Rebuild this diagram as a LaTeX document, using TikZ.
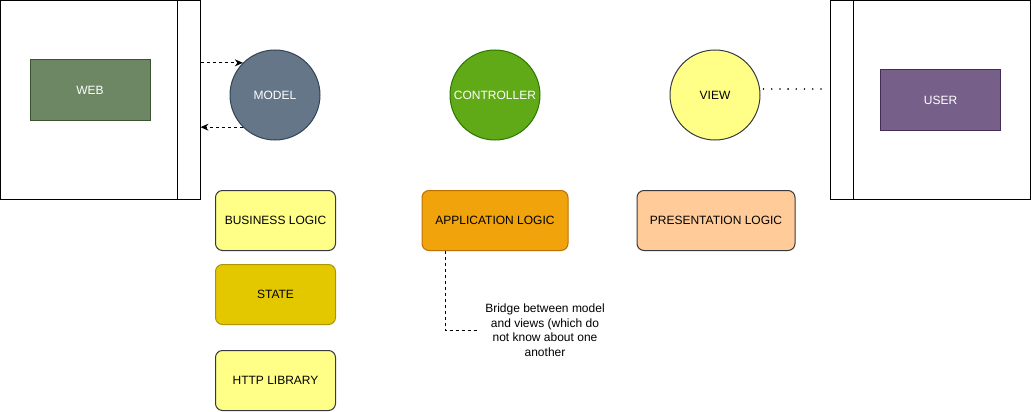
\documentclass[tikz,border=0pt]{standalone}
\usepackage{fontspec}
\setmainfont{Liberation Sans}
\usetikzlibrary{arrows.meta}
\definecolor{webfill}{HTML}{6D8764}\definecolor{webline}{HTML}{3A5431}
\definecolor{modelfill}{HTML}{647687}\definecolor{modelline}{HTML}{314354}
\definecolor{ctrlfill}{HTML}{60A917}\definecolor{ctrlline}{HTML}{2D7600}
\definecolor{yelfill}{HTML}{FFFF88}\definecolor{greyline}{HTML}{36393D}
\definecolor{userfill}{HTML}{76608A}\definecolor{userline}{HTML}{432D57}
\definecolor{statefill}{HTML}{E3C800}\definecolor{stateline}{HTML}{B09500}
\definecolor{appfill}{HTML}{F0A30A}\definecolor{appline}{HTML}{BD7000}
\definecolor{presfill}{HTML}{FFCC99}
\tikzset{
  lbl/.style={font=\fontsize{12}{14.5}\selectfont},
  container/.style={draw=black,line width=1pt,minimum width=200pt,minimum height=199pt,inner sep=0pt},
  actor/.style={lbl,line width=1pt,minimum width=120pt,minimum height=60pt,inner sep=0pt,text=white},
  role/.style={lbl,circle,line width=1pt,minimum size=90pt,inner sep=0pt},
  logic/.style={lbl,rounded corners=7pt,line width=1pt,minimum height=60pt,inner sep=0pt},
  flow/.style={line width=1pt,dash pattern=on 3pt off 3pt,-{Stealth[length=8pt,width=7pt]}}
}
\begin{document}
\begin{tikzpicture}[x=1pt,y=-1pt]
\useasboundingbox (0,0) rectangle (1031,412);
% containers
\node[container] (leftbox) at (100,100) {};
\draw[line width=1pt] (177,0.5) -- (177,199.5);
\node[container] (rightbox) at (930,100) {};
\draw[line width=1pt] (853,0.5) -- (853,199.5);
% actors
\node[actor,fill=webfill,draw=webline] (web) at (90,90) {WEB};
\node[actor,fill=userfill,draw=userline] (user) at (940.5,100) {USER};
% roles
\node[role,fill=modelfill,draw=modelline,text=white] (model) at (275,95) {MODEL};
\node[role,fill=ctrlfill,draw=ctrlline,text=white] (ctrl) at (495,95) {CONTROLLER};
\node[role,fill=yelfill,draw=greyline] (view) at (715,95) {VIEW};
% logic boxes
\node[logic,fill=yelfill,draw=greyline,minimum width=120pt] (biz) at (275.5,220.5) {BUSINESS LOGIC};
\node[logic,fill=statefill,draw=stateline,minimum width=120pt] (state) at (275.5,294.5) {STATE};
\node[logic,fill=yelfill,draw=greyline,minimum width=120pt] (http) at (275.5,380.5) {HTTP LIBRARY};
\node[logic,fill=appfill,draw=appline,minimum width=146pt] (app) at (495,220.5) {APPLICATION LOGIC};
\node[logic,fill=presfill,draw=greyline,minimum width=158pt] (pres) at (716,220.5) {PRESENTATION LOGIC};
% note
\node[lbl,align=center,inner sep=0pt] (note) at (545,330) {Bridge between model\\and views (which do\\not know about one\\another};
% connectors
\draw[flow] (leftbox.east |- model.135) -- (model.135);
\draw[flow] (model.225) -- (leftbox.east |- model.225);
\coordinate (dotend) at (822,89);
\draw[line width=1.8pt,line cap=round,dash pattern=on 0pt off 8.2pt] ([xshift=3pt]view.east |- dotend) -- (dotend);
\coordinate (appfoot) at (445,250.5);
\draw[line width=1pt,dash pattern=on 3pt off 3pt] (appfoot) |- ([xshift=-6pt]note.west);
\end{tikzpicture}
\end{document}
